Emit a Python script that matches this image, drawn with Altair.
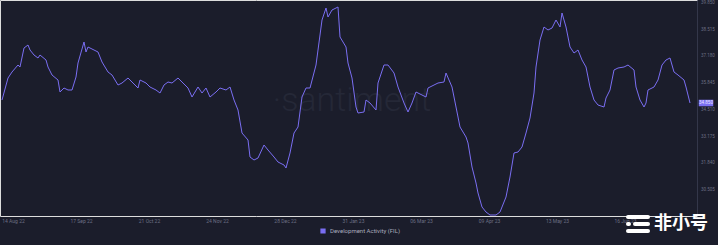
import altair as alt
import pandas as pd

# ---------------- data ----------------
START = "2022-08-09"
day_offset = [1, 4, 6, 9, 10, 12, 14, 15, 17, 19, 20, 23, 24, 26, 29, 30, 32, 34, 36, 38,
              39, 42, 43, 44, 47, 49, 51, 54, 56, 59, 61, 64, 66, 69, 70, 73, 75, 78, 80, 82,
              84, 86, 89, 91, 94, 96, 99, 101, 103, 105, 108, 110, 113, 115, 117, 119, 121, 124, 125, 127,
              129, 132, 134, 137, 139, 142, 143, 145, 147, 149, 151, 153, 155, 158, 159, 161, 163, 164, 166, 169,
              170, 173, 174, 176, 178, 179, 182, 183, 185, 188, 189, 192, 194, 197, 199, 202, 204, 206, 208, 211,
              213, 214, 217, 219, 222, 223, 226, 228, 230, 233, 234, 236, 238, 239, 241, 243, 245, 248, 250, 253,
              255, 257, 259, 261, 263, 265, 267, 268, 270, 272, 274, 276, 278, 280, 281, 283, 285, 287, 289, 291,
              293, 295, 297, 299, 302, 303, 305, 307, 309, 312, 314, 317, 318, 320, 322, 323, 324, 327, 329, 331,
              333, 335, 337, 339, 342, 343, 345]
activity = [35.00, 36.10, 36.40, 36.75, 36.65, 37.60, 37.75, 37.50, 37.25, 37.10, 37.25, 37.00, 36.65, 36.25, 36.00, 35.40, 35.60, 35.50, 35.50, 36.15,
            36.85, 37.90, 37.40, 37.65, 37.50, 37.40, 36.90, 36.40, 36.25, 35.75, 35.85, 36.10, 35.90, 35.60, 36.00, 35.85, 35.65, 35.50, 35.35, 35.75,
            35.90, 35.85, 36.10, 35.90, 35.60, 35.15, 35.65, 35.35, 35.60, 35.15, 35.40, 35.60, 35.50, 35.65, 35.00, 34.50, 33.35, 33.00, 32.15, 32.00,
            32.10, 32.75, 32.50, 32.15, 31.90, 31.75, 31.60, 32.35, 33.35, 33.65, 35.15, 35.60, 35.60, 36.75, 37.50, 39.00, 39.60, 39.15, 39.50, 39.65,
            38.15, 37.65, 36.85, 36.10, 34.65, 34.35, 34.40, 35.00, 34.85, 34.50, 35.85, 36.75, 36.75, 36.35, 35.65, 34.85, 34.40, 34.85, 35.40, 35.25,
            35.15, 35.60, 35.75, 35.85, 35.90, 36.35, 35.65, 34.65, 33.65, 33.15, 32.85, 31.65, 30.85, 30.35, 29.65, 29.40, 29.25, 29.25, 29.40, 30.15,
            31.15, 32.35, 32.40, 32.65, 33.35, 34.10, 35.35, 36.65, 38.00, 38.65, 38.50, 38.60, 39.00, 38.65, 39.35, 38.65, 37.65, 37.35, 37.50, 37.00,
            36.65, 35.65, 35.00, 34.75, 34.65, 35.10, 35.50, 36.50, 36.60, 36.65, 36.75, 36.50, 35.65, 35.00, 34.65, 34.85, 35.50, 35.65, 36.00, 36.75,
            37.00, 37.10, 36.40, 36.25, 36.00, 35.65, 34.85]
tick_dates = ["2022-08-14", "2022-09-17", "2022-10-21", "2022-11-24", "2022-12-28",
              "2023-01-31", "2023-03-06", "2023-04-09", "2023-05-13", "2023-06-16"]
y_ticks = [39.85, 38.515, 37.18, 35.845, 34.51, 33.175, 31.84, 30.505]
legend_label = "Development Activity (FIL)"
watermark_text = ["·santiment"]
logo_text = ["非小号"]

# ---------------- styling ----------------
BG = "#1b1d2b"
LINE = "#7a6ef2"
AXIS_TXT = "#6c6f84"

df = pd.DataFrame({
    "date": pd.to_datetime(START) + pd.to_timedelta(day_offset, unit="D"),
    "value": activity,
    "series": legend_label,
})
last = df.tail(1)
yt = pd.DataFrame({"v": y_ticks})


def dt(s):
    y, m, d = (int(p) for p in s.split("-"))
    return alt.DateTime(year=y, month=m, date=d)


x_scale = alt.Scale(domain=[alt.DateTime(year=2022, month=8, date=9),
                            alt.DateTime(year=2023, month=7, date=23, hours=12)])
y_scale = alt.Scale(domain=[29.2, 40], nice=False, zero=False)

x_enc = alt.X("date:T", scale=x_scale, title=None,
              axis=alt.Axis(values=[dt(s) for s in tick_dates], format="%d %b %y",
                            labelFontSize=5, labelColor=AXIS_TXT, labelPadding=2, labelOffset=3,
                            domain=False, ticks=False, grid=False,
                            labelFlush=False, labelOverlap=False, labelBound=False))
y_enc = alt.Y("value:Q", scale=y_scale, title=None,
              axis=alt.Axis(orient="right", values=y_ticks, labels=False,
                            domain=True, domainColor="#34374a", domainWidth=1,
                            ticks=False, grid=False))

watermark = alt.Chart(pd.DataFrame({"t": watermark_text})).mark_text(
    fontSize=34, font="Roboto", fontWeight=300, color="#252837", align="center", baseline="middle"
).encode(text="t:N", x=alt.value(352), y=alt.value(101))

line = alt.Chart(df).mark_line(strokeWidth=1, interpolate="linear").encode(
    x=x_enc, y=y_enc,
    color=alt.Color("series:N", scale=alt.Scale(domain=[legend_label], range=[LINE]),
                    legend=alt.Legend(orient="none", legendX=320, legendY=228, title=None,
                                      symbolType="square", symbolSize=14,
                                      symbolFillColor=LINE, symbolStrokeColor=LINE,
                                      labelFontSize=6, labelColor="#a9abbd", labelFont="Roboto",
                                      direction="horizontal")),
)

ylabels = alt.Chart(yt).mark_text(fontSize=4.5, color=AXIS_TXT, align="left", baseline="middle").encode(
    x=alt.value(701), y=alt.Y("v:Q", scale=y_scale), text=alt.Text("v:Q", format=".3f"))

box = alt.Chart(last).mark_point(
    shape="M-1,-0.45L1,-0.45L1,0.45L-1,0.45Z", filled=True, size=210, opacity=1, color="#7b70f2"
).encode(x=alt.value(706), y=alt.Y("value:Q", scale=y_scale))

box_txt = alt.Chart(last).mark_text(fontSize=4.5, color="#e8e6ff", font="Roboto").encode(
    x=alt.value(706), y=alt.Y("value:Q", scale=y_scale), text=alt.Text("value:Q", format=".3f"))

logo = alt.Chart(pd.DataFrame({"t": logo_text})).mark_text(
    fontSize=18, font="Noto Sans CJK SC", fontWeight="bold", color="#ffffff", align="left", baseline="middle"
).encode(text="t:N", x=alt.value(654), y=alt.value(224))

pill_kw = dict(strokeCap="round", strokeWidth=4, color="#ffffff")
icon = alt.layer(
    alt.Chart(pd.DataFrame({"k": [0]})).mark_rule(**pill_kw).encode(x=alt.value(628), x2=alt.value(648), y=alt.value(217)),
    alt.Chart(pd.DataFrame({"k": [0]})).mark_rule(**pill_kw).encode(x=alt.value(628), x2=alt.value(629), y=alt.value(224)),
    alt.Chart(pd.DataFrame({"k": [0]})).mark_rule(**pill_kw).encode(x=alt.value(635), x2=alt.value(648), y=alt.value(224)),
    alt.Chart(pd.DataFrame({"k": [0]})).mark_rule(**pill_kw).encode(x=alt.value(628), x2=alt.value(648), y=alt.value(231)),
)

chart = alt.layer(watermark, line, ylabels, box, box_txt, icon, logo).resolve_scale(
    color="independent"
).properties(
    width=697, height=216,
    background=BG,
    padding={"left": 0, "top": 0, "right": 21, "bottom": 29},
    autosize=alt.AutoSizeParams(type="none"),
).configure_view(stroke=None).configure(font="Roboto")

chart.save("out.html", embed_options={"renderer": "svg", "actions": False})
